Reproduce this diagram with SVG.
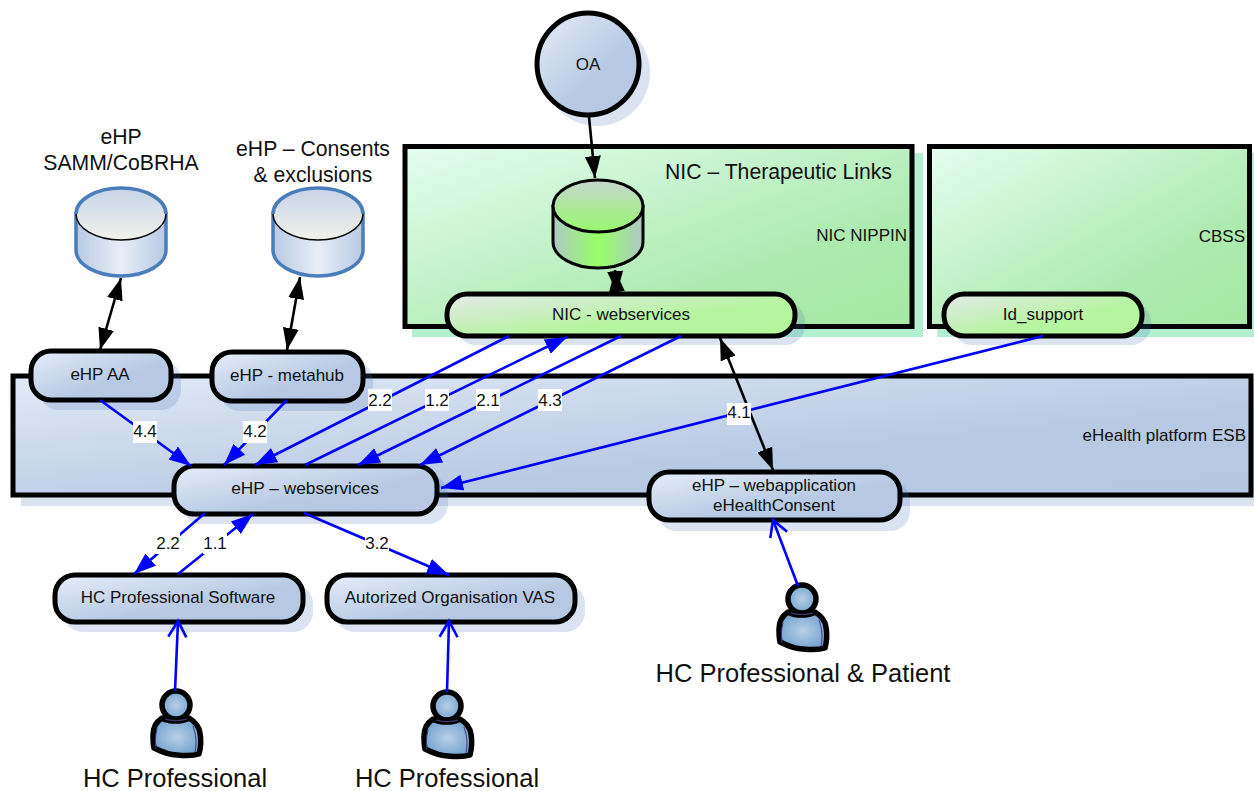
<svg xmlns="http://www.w3.org/2000/svg" xmlns:xlink="http://www.w3.org/1999/xlink" width="1254" height="791" viewBox="0 0 1254 791">
<style>
text{font-family:"Liberation Sans",Arial,sans-serif;fill:#111;font-size:17px}
.m{text-anchor:middle}.e{text-anchor:end}
.big{font-size:25.5px}.h{font-size:21.2px}
.box{stroke:#000;stroke-width:5}
.nd{stroke:#000;stroke-width:5}
.sb{fill:#4a74b8;fill-opacity:.2}
.sg{fill:#00cc66;fill-opacity:.3}
.bl{stroke:#00f;stroke-width:2.6;fill:none}
.blk{stroke:#000;stroke-width:2.6;fill:none}
.tag{fill:#fff}
</style>
<defs>
<linearGradient id="gb" x1="0" y1="0" x2="1" y2="1"><stop offset="0" stop-color="#e6edf8"/><stop offset=".6" stop-color="#b7c9e3"/><stop offset="1" stop-color="#b5c7e2"/></linearGradient>
<linearGradient id="gn" x1="0" y1="0" x2="1" y2="1"><stop offset="0" stop-color="#e4e8ec"/><stop offset=".6" stop-color="#b6f5a0"/><stop offset="1" stop-color="#b4f69a"/></linearGradient>
<linearGradient id="gbox" x1="0" y1="0" x2="1" y2="1"><stop offset="0" stop-color="#e4fdf0"/><stop offset=".7" stop-color="#aceaae"/><stop offset="1" stop-color="#a6e8a4"/></linearGradient>
<linearGradient id="gesb" x1="0" y1="0" x2="1" y2="1"><stop offset="0" stop-color="#e2eaf6"/><stop offset=".65" stop-color="#b7c9e3"/><stop offset="1" stop-color="#b5c7e2"/></linearGradient>
<linearGradient id="cs" x1="0" x2="1" y1="0" y2="0"><stop offset="0" stop-color="#b8c9e3"/><stop offset=".5" stop-color="#e8eef7"/><stop offset="1" stop-color="#b8c9e3"/></linearGradient>
<linearGradient id="ct" x1="0" x2="0" y1="0" y2="1"><stop offset="0" stop-color="#c6d4e8"/><stop offset="1" stop-color="#f1f1ea"/></linearGradient>
<linearGradient id="gs" x1="0" x2="1" y1="0" y2="0"><stop offset="0" stop-color="#aec8c4"/><stop offset=".5" stop-color="#98ff66"/><stop offset="1" stop-color="#aec8c4"/></linearGradient>
<linearGradient id="gt" x1="0" x2="0" y1="0" y2="1"><stop offset="0" stop-color="#c6d6d0"/><stop offset="1" stop-color="#98f86c"/></linearGradient>
<radialGradient id="pg" r=".6"><stop offset="0" stop-color="#b8cfe6"/><stop offset="1" stop-color="#6a9dcc"/></radialGradient>
<marker id="bf" markerUnits="userSpaceOnUse" markerWidth="24" markerHeight="18" refX="22" refY="8" orient="auto-start-reverse" viewBox="0 0 24 16"><path d="M0 0L22 8L0 16z" fill="#00f"/></marker>
<marker id="kf" markerUnits="userSpaceOnUse" markerWidth="24" markerHeight="18" refX="22" refY="8" orient="auto-start-reverse" viewBox="0 0 24 16"><path d="M0 0L22 8L0 16z" fill="#000"/></marker>
<marker id="bo" markerUnits="userSpaceOnUse" markerWidth="20" markerHeight="22" refX="17" refY="10" orient="auto" viewBox="0 0 20 20"><path d="M1 1L17 10L1 19" fill="none" stroke="#00f" stroke-width="2.6"/></marker>
<g id="person">
<path d="M-14 13C-20 17-23 22-23 30C-23 36-23 39-22 43C-14 47-7 50 1 50C10 51 17 51 23 49C25 42 25 34 24 28C23 21 18 16 13 13C6 17-7 17-14 13z" fill="url(#pg)" stroke="#000" stroke-width="5.5" stroke-linejoin="round"/>
<circle cx="0" cy="0" r="14" fill="url(#pg)" stroke="#000" stroke-width="5.5"/>
<path d="M-11 14C-5 16 5 16 11 14" fill="none" stroke="#3d3a7a" stroke-width="1.2"/>
<path d="M-19 24C-21 32-21 38-20 44M17 21C20 30 21 38 19 47" fill="none" stroke="#3d3a7a" stroke-width="1"/>
</g>
</defs>

<g id="nic-nippin">
<rect class="sg" x="412" y="153" width="511" height="184"/>
<rect class="box" x="405" y="146.500" width="507" height="180" fill="url(#gbox)"/>
<text x="665" y="179" style="font-size:21.2px">NIC – Therapeutic Links</text>
<text class="e" x="907" y="241">NIC NIPPIN</text>
</g>
<g id="cbss">
<rect class="sg" x="937" y="153" width="317" height="184"/>
<rect class="box" x="929.500" y="146.500" width="320" height="180" fill="url(#gbox)"/>
<text class="e" x="1245" y="242">CBSS</text>
</g>
<g id="esb">
<rect class="sb" x="21" y="384" width="1233" height="122"/>
<rect class="box" x="13" y="376" width="1238" height="119" fill="url(#gesb)"/>
<text class="e" x="1246" y="441">eHealth platform ESB</text>
</g>

<g id="oa">
<circle class="sb" cx="597" cy="73" r="53"/>
<circle cx="588" cy="64" r="51" fill="url(#gb)" class="nd"/>
<text class="m" x="588" y="70">OA</text>
</g>
<g id="nic-db">
<path d="M553 206V242A45 26 0 0 0 643 242V206z" fill="url(#gs)" stroke="#000" stroke-width="3"/>
<ellipse cx="598" cy="206" rx="45" ry="26" fill="url(#gt)" stroke="#000" stroke-width="3"/>
</g>
<g id="db-samm">
<path d="M76 214V250A45 26 0 0 0 166 250V214z" fill="url(#cs)" stroke="#4a7ebb" stroke-width="3.5"/>
<ellipse cx="121" cy="214" rx="45" ry="26" fill="url(#ct)"/>
<path d="M76 214A45 26 0 0 0 166 214" fill="none" stroke="#000" stroke-width="1.5"/>
<path d="M76 214A45 26 0 0 1 166 214" fill="none" stroke="#4a7ebb" stroke-width="3.5"/>
<text class="m h" x="121" y="144">eHP</text>
<text class="m h" x="121" y="170">SAMM/CoBRHA</text>
</g>
<g id="db-consents">
<path d="M273 214V250A45 26 0 0 0 363 250V214z" fill="url(#cs)" stroke="#4a7ebb" stroke-width="3.5"/>
<ellipse cx="318" cy="214" rx="45" ry="26" fill="url(#ct)"/>
<path d="M273 214A45 26 0 0 0 363 214" fill="none" stroke="#000" stroke-width="1.5"/>
<path d="M273 214A45 26 0 0 1 363 214" fill="none" stroke="#4a7ebb" stroke-width="3.5"/>
<text class="m h" x="313" y="156">eHP – Consents</text>
<text class="m h" x="313" y="182">&amp; exclusions</text>
</g>

<g id="nic-ws">
<rect class="sb" x="456" y="302" width="349" height="43" rx="20"/>
<rect class="nd" x="447" y="294" width="348" height="42" rx="20" fill="url(#gn)"/>
<text class="m" x="621" y="320">NIC - webservices</text>
</g>
<g id="id-support">
<rect class="sb" x="952" y="302" width="199" height="43" rx="20"/>
<rect class="nd" x="944" y="294" width="198" height="42" rx="20" fill="url(#gn)"/>
<text class="m" x="1043" y="320">Id_support</text>
</g>
<g id="ehp-aa">
<rect class="sb" x="39" y="360" width="142" height="50" rx="20"/>
<rect class="nd" x="31" y="351" width="140" height="49" rx="20" fill="url(#gb)"/>
<text class="m" x="100" y="380">eHP AA</text>
</g>
<g id="ehp-metahub">
<rect class="sb" x="220" y="361" width="153" height="50" rx="20"/>
<rect class="nd" x="212" y="352" width="151" height="49" rx="20" fill="url(#gb)"/>
<text class="m" x="287" y="381">eHP - metahub</text>
</g>
<g id="ehp-ws">
<rect class="sb" x="182" y="475" width="266" height="49" rx="20"/>
<rect class="nd" x="174" y="466" width="263" height="48" rx="20" fill="url(#gb)"/>
<text class="m" x="305" y="494" style="font-size:17.300px">eHP – webservices</text>
</g>
<g id="ehp-webapp">
<rect class="sb" x="657" y="481" width="253" height="50" rx="20"/>
<rect class="nd" x="649" y="472" width="251" height="48" rx="20" fill="url(#gb)"/>
<text class="m" x="774" y="491">eHP – webapplication</text>
<text class="m" x="774" y="511">eHealthConsent</text>
</g>
<g id="hc-software">
<rect class="sb" x="63" y="584" width="250" height="48" rx="20"/>
<rect class="nd" x="55" y="575" width="248" height="47" rx="20" fill="url(#gb)"/>
<text class="m" x="178" y="603">HC Professional Software</text>
</g>
<g id="vas">
<rect class="sb" x="335" y="584" width="250" height="48" rx="20"/>
<rect class="nd" x="327" y="575" width="248" height="47" rx="20" fill="url(#gb)"/>
<text class="m" x="450" y="603">Autorized Organisation VAS</text>
</g>

<g id="person-1"><use href="#person" x="176" y="705"/><text class="m big" x="175" y="787">HC Professional</text></g>
<g id="person-2"><use href="#person" x="447" y="706"/><text class="m big" x="447" y="787">HC Professional</text></g>
<g id="person-3"><use href="#person" x="802" y="599"/><text class="m big" x="803" y="682">HC Professional &amp; Patient</text></g>

<g id="connectors">
<path class="blk" d="M589 117L595 178" marker-end="url(#kf)"/>
<path class="blk" d="M615 270L617 293" marker-start="url(#kf)" marker-end="url(#kf)"/>
<path class="blk" d="M121 278L100 350" marker-start="url(#kf)" marker-end="url(#kf)"/>
<path class="blk" d="M300 277L287 350" marker-start="url(#kf)" marker-end="url(#kf)"/>
<path class="blk" d="M720 338L773 470" marker-start="url(#kf)" marker-end="url(#kf)"/>
<path class="bl" d="M100 400L191 466" marker-end="url(#bf)"/>
<path class="bl" d="M287 400L224 465" marker-end="url(#bf)"/>
<path class="bl" d="M509 336L255 465" marker-end="url(#bf)"/>
<path class="bl" d="M305 465L567 337" marker-end="url(#bf)"/>
<path class="bl" d="M621 336L358 465" marker-end="url(#bf)"/>
<path class="bl" d="M681 336L420 465" marker-end="url(#bf)"/>
<path class="bl" d="M1043 336L441 488" marker-end="url(#bf)"/>
<path class="bl" d="M205 513L134 574" marker-end="url(#bf)"/>
<path class="bl" d="M178 574L253 514" marker-end="url(#bf)"/>
<path class="bl" d="M304 513L449 575" marker-end="url(#bf)"/>
<path class="bl" d="M175 691L178 621" marker-end="url(#bo)"/>
<path class="bl" d="M447 692L449 621" marker-end="url(#bo)"/>
<path class="bl" d="M798 586L773 520" marker-end="url(#bo)"/>
<g id="labels">
<rect class="tag" x="133" y="421" width="24" height="22"/><text class="m" x="145" y="437">4.4</text>
<rect class="tag" x="243" y="421" width="24" height="22"/><text class="m" x="255" y="437">4.2</text>
<rect class="tag" x="368" y="389" width="24" height="22"/><text class="m" x="380" y="406">2.2</text>
<rect class="tag" x="425" y="389" width="24" height="22"/><text class="m" x="437" y="406">1.2</text>
<rect class="tag" x="476" y="389" width="24" height="22"/><text class="m" x="488" y="406">2.1</text>
<rect class="tag" x="538" y="389" width="24" height="22"/><text class="m" x="550" y="406">4.3</text>
<rect class="tag" x="727" y="403" width="24" height="22"/><text class="m" x="739" y="418">4.1</text>
<rect class="tag" x="156" y="533" width="24" height="21"/><text class="m" x="168" y="549">2.2</text>
<rect class="tag" x="203" y="533" width="24" height="21"/><text class="m" x="215" y="549">1.1</text>
<rect class="tag" x="365" y="533" width="24" height="21"/><text class="m" x="377" y="549">3.2</text>
</g>
</g>
</svg>
